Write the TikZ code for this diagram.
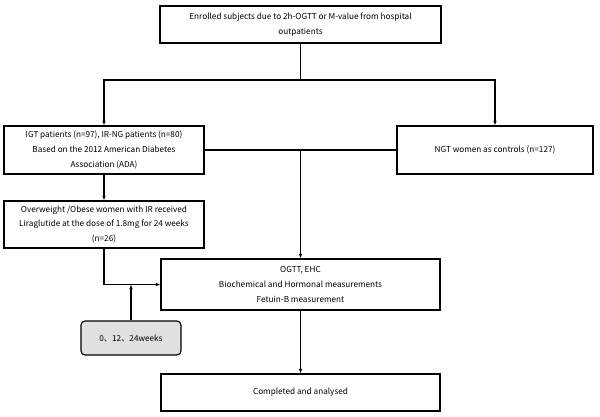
\documentclass[tikz,border=0pt]{standalone}
\usepackage{fontspec}
\setmainfont{Noto Sans CJK SC}
\usetikzlibrary{arrows.meta}

\begin{document}
\begin{tikzpicture}[x = 1pt, y = -1pt, line width = 1.1pt,
                      >={Latex[length=4.5pt, width=3.5pt]},
                      box/.style = {draw, align = center, inner sep = 0pt,
                                    font = \fontsize{8.2}{14.6}\selectfont},
                      time/.style = {box, rounded corners = 4pt, fill = black!12}]
    \useasboundingbox (0, 0) rectangle (600, 417);

    \node [box, minimum width = 281pt, minimum height = 37pt] (b1) at (300.5, 24.5)
        {Enrolled subjects due to 2h-OGTT or M-value from hospital\\outpatients};
    \node [box, minimum width = 200pt, minimum height = 48pt] (b2) at (104, 150)
        {IGT patients (n=97), IR-NG patients (n=80)\\Based on the 2012 American Diabetes\\Association (ADA)};
    \node [box, minimum width = 196pt, minimum height = 48pt] (b3) at (495, 150)
        {NGT women as controls (n=127)};
    \node [box, minimum width = 200pt, minimum height = 47pt] (b4) at (104, 224.5)
        {Overweight /Obese women with IR received\\Liraglutide at the dose of 1.8mg for 24 weeks\\(n=26)};
    \node [box, minimum width = 279pt, minimum height = 51pt] (b5) at (300.5, 284.5)
        {OGTT, EHC\\Biochemical and Hormonal measurements\\Fetuin-B measurement};
    \node [time, minimum width = 100pt, minimum height = 34pt] (b6) at (131, 338)
        {0、12、24weeks};
    \node [box, minimum width = 279pt, minimum height = 37pt] (b7) at (300.5, 392.5)
        {Completed and analysed};

    \coordinate (c1) at (300.5, 80);
    \coordinate (c2) at (104, 80);
    \coordinate (c3) at (495, 80);
    \coordinate (c4) at (300.5, 150);
    \coordinate (c5) at (131, 284.5);

    \draw (b1) -- (c1);
    \draw[->] (c1) -- (c2) -- (b2);
    \draw[->] (c1) -- (c3) -- (b3);
    \draw (b2) -- (b3);
    \draw[->] (c4) -- (b5);
    \draw[->] (b2) -- (b4);
    \draw[->] (b4.south) |- (b5.west);
    \draw[->] (b6) -- (c5);
    \draw[->] (b5) -- (b7);
\end{tikzpicture}
\end{document}
